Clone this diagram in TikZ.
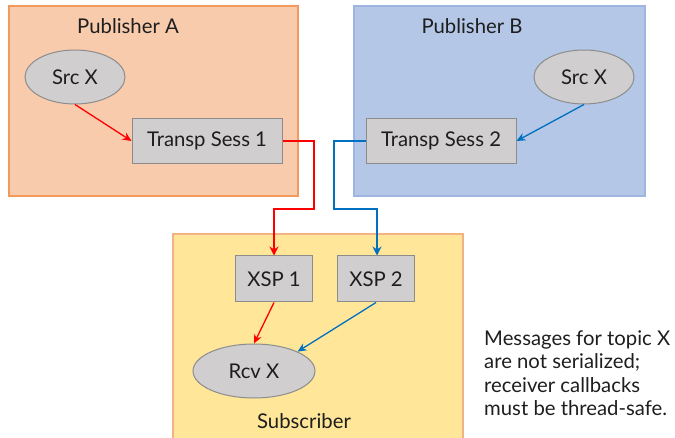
\documentclass[tikz,border=0pt]{standalone}
\usepackage{fontspec}
\setmainfont{Lato}
\usetikzlibrary{arrows.meta,shapes.geometric}
\definecolor{peach}{HTML}{F8CBAD}
\definecolor{peachline}{HTML}{F29A5E}
\definecolor{bluefill}{HTML}{B4C7E7}
\definecolor{blueline}{HTML}{9DB5E0}
\definecolor{yellowfill}{HTML}{FFE699}
\definecolor{yellowline}{HTML}{F4B183}
\definecolor{boxgray}{HTML}{D0CECE}
\definecolor{boxline}{HTML}{8C8C8C}
\definecolor{redline}{HTML}{FF0000}
\definecolor{blueconn}{HTML}{0070C0}
\definecolor{txt}{HTML}{1E1E1E}
\begin{document}
\begin{tikzpicture}[x=1pt,y=-1pt,
  every node/.style={font=\fontsize{20.3}{23}\selectfont, text=txt},
  procbox/.style={draw=boxline, fill=boxgray, line width=1pt, minimum width=150pt, minimum height=45pt, inner sep=0pt},
  xspbox/.style={draw=boxline, fill=boxgray, line width=1pt, minimum width=77pt, minimum height=46pt, inner sep=0pt},
  endpt/.style={ellipse, draw=boxline, fill=boxgray, line width=1pt, minimum width=100pt, minimum height=54pt, inner sep=0pt},
  redarrow/.style={draw=redline, line width=1.3pt, -{Stealth[length=9pt,width=8pt,inset=3pt]}},
  bluearrow/.style={draw=blueconn, line width=1.3pt, -{Stealth[length=9pt,width=8pt,inset=3pt]}},
  redpath/.style={draw=redline, line width=2pt, -{Stealth[length=9pt,width=9pt,inset=3pt]}},
  bluepath/.style={draw=blueconn, line width=2pt, -{Stealth[length=9pt,width=9pt,inset=3pt]}},
]
\useasboundingbox (0,0) rectangle (675,438);
% regions
\fill[peach, draw=peachline, line width=1.2pt] (9,6) rectangle (298,196);
\fill[bluefill, draw=blueline, line width=1.2pt] (354,6) rectangle (645,196);
\fill[yellowfill, draw=yellowline, line width=1.2pt] (173,234) rectangle (463,440);
\node (pubA) at (128,26) {Publisher A};
\node (pubB) at (472,26) {Publisher B};
\node (sub) at (304,421) {Subscriber};
% nodes
\node[endpt] (srcA) at (75,77) {Src X};
\node[procbox] (ts1) at (207,141) {Transp Sess 1};
\node[endpt] (srcB) at (584,77) {Src X};
\node[procbox] (ts2) at (441,141) {Transp Sess 2};
\node[xspbox] (xsp1) at (274,279) {XSP 1};
\node[xspbox] (xsp2) at (376,279) {XSP 2};
\node[endpt, minimum width=122pt] (rcv) at (254,371) {Rcv X};
\node[anchor=north west, align=left, inner sep=0pt, font=\fontsize{20.3}{23.4}\selectfont] (note) at (484,330.5) {Messages for topic X\\are not serialized;\\receiver callbacks\\must be thread-safe.};
% connectors
\draw[redarrow] (srcA.south) -- (ts1.west);
\draw[bluearrow] (srcB.south) -- (ts2.east);
\coordinate (r1) at (314,141);
\coordinate (r2) at (314,209);
\coordinate (r3) at (274,209);
\draw[redpath] (ts1.east) -- (r1) -- (r2) -- (r3) -- (xsp1.north);
\coordinate (b1) at (334,141);
\coordinate (b2) at (334,209);
\coordinate (b3) at (377,209);
\draw[bluepath] (ts2.west) -- (b1) -- (b2) -- (b3) -- (b3 |- xsp2.north);
\draw[redarrow] (xsp1.south) -- (rcv.north);
\draw[bluearrow] (xsp2.south) -- (rcv.24);
\end{tikzpicture}
\end{document}
